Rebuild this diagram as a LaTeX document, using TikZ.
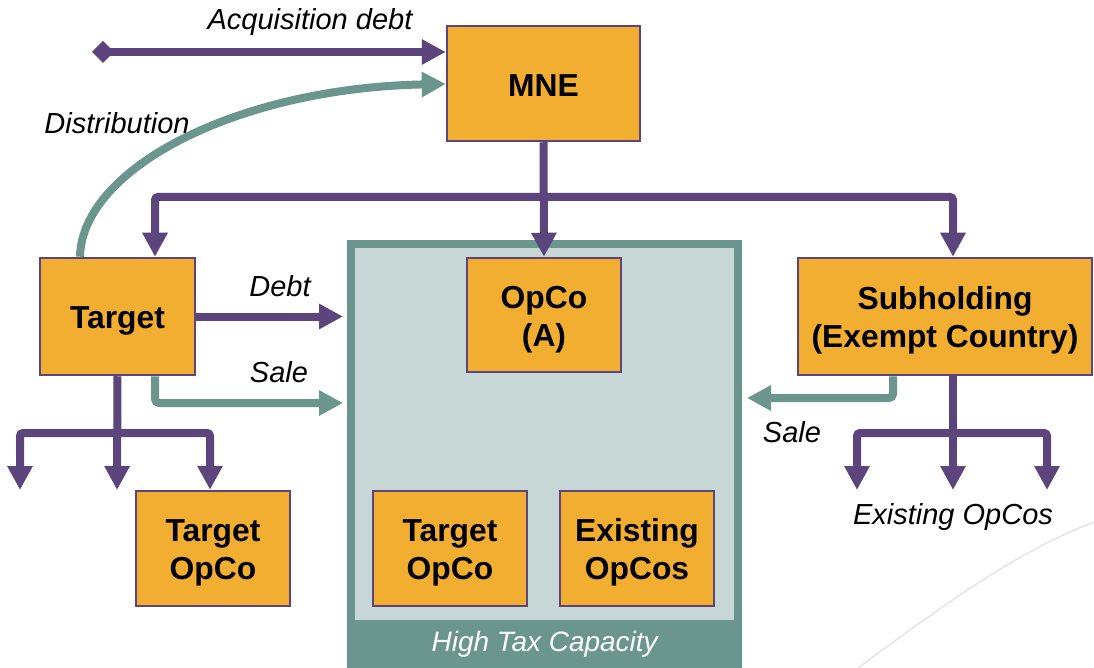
\documentclass[tikz,border=0pt]{standalone}
\usepackage{fontspec}
\setmainfont{Liberation Sans}
\usetikzlibrary{arrows.meta,calc}
\definecolor{boxor}{HTML}{F2AE30}
\definecolor{purp}{HTML}{5C457D}
\definecolor{tealc}{HTML}{6B968E}
\definecolor{lightf}{HTML}{C6D7D5}
\newcommand\bxs[1]{\rule{0pt}{#1}}
\begin{document}
\begin{tikzpicture}[x=1pt,y=-1pt,
  box/.style={draw=purp, line width=2.5pt, fill=boxor, font=\bfseries\fontsize{31.8}{38}\selectfont, align=center, inner sep=0pt},
  pl/.style={draw=purp, line width=8pt},
  tl/.style={draw=tealc, line width=8pt},
  tip/.style={-{Triangle[length=24pt,width=24pt]}},
  dtip/.style={{Triangle[length=24pt,width=24pt]}-{Triangle[length=24pt,width=24pt]}},
  lbl/.style={font=\itshape\fontsize{29}{34}\selectfont, inner sep=0pt}
]
\useasboundingbox (0,0) rectangle (1094,668);
\fill[white] (0,0) rectangle (1094,668);
% faint background curve
\draw[black!10, line width=1.5pt] (858,668) .. controls (950,600) and (1020,550) .. (1094,522);

% high tax capacity region
\node[draw=tealc, line width=8pt, fill=lightf, minimum width=387pt, minimum height=424pt, anchor=north west, inner sep=0pt] (htc) at (347,240) {};
\node[fill=tealc, minimum width=395pt, minimum height=48pt, anchor=south west, inner sep=0pt, text=white, font=\itshape\fontsize{28}{34}\selectfont] (band) at (347,668) {High Tax Capacity};

% boxes
\node[box, minimum width=193pt, minimum height=115pt] (MNE) at (543.5,83.5) {\bxs{26pt}MNE};
\node[box, minimum width=155pt, minimum height=117pt] (Target) at (117.5,316.5) {\bxs{30pt}Target};
\node[box, minimum width=154pt, minimum height=114pt] (OpCoA) at (544,315) {\bxs{31pt}OpCo\\(A)};
\node[box, minimum width=294pt, minimum height=117pt] (Sub) at (945,316.5) {\bxs{31pt}Subholding\\(Exempt Country)};
\node[box, minimum width=154pt, minimum height=115pt] (TO1) at (213,548.5) {\bxs{31pt}Target\\OpCo};
\node[box, minimum width=154pt, minimum height=115pt] (TO2) at (450,548.5) {\bxs{31pt}Target\\OpCo};
\node[box, minimum width=154pt, minimum height=115pt] (EO) at (637,548.5) {\bxs{31pt}Existing\\OpCos};

% labels
\node[lbl] (lAcq) at (310,22) {Acquisition debt};
\node[lbl] (lDist) at (117,123) {Distribution};
\node[lbl] (lDebt) at (280,286) {Debt};
\node[lbl] (lSaleL) at (279,372) {Sale};
\node[lbl] (lSaleR) at (792,432) {Sale};
\node[lbl] (lEx) at (953,517) {Existing OpCos};

% free-end coordinates
\coordinate (acq) at (92,52);
\coordinate (bus) at (543,197);
\coordinate (tbus) at (117,433);
\coordinate (tL) at (20,490);
\coordinate (tM) at (117,490);
\coordinate (saleL) at (343,403);
\coordinate (saleR) at (747,398);
\coordinate (sbus) at (953,433);
\coordinate (sL) at (857,490);
\coordinate (sM) at (953,490);
\coordinate (sR) at (1047,490);

% acquisition debt
\draw[pl, {Diamond[length=22pt,width=22pt]}-{Triangle[length=24pt,width=24pt]}] (acq) -- (MNE.west |- acq);
% distribution
\draw[tl, tip] ([xshift=-37.5pt]Target.north) .. controls (82,168) and (238,88) .. ([yshift=-0.5pt]MNE.west);
% MNE ownership
\draw[pl, tip] (MNE.south) -- (OpCoA.north);
\draw[pl, dtip, rounded corners=3pt] ([xshift=37.5pt]Target.north) -- ([xshift=37.5pt]Target.north |- bus) -- ([xshift=8pt]Sub.north |- bus) -- ([xshift=8pt]Sub.north);
% debt and sale
\draw[pl, tip, shorten >=4pt] (Target.east) -- (Target.east -| htc.west);
\draw[tl, tip, rounded corners=4pt] ([xshift=37.5pt]Target.south) |- (saleL);
\draw[tl, tip, rounded corners=4pt] ([xshift=-52pt]Sub.south) |- (saleR);
% target subsidiaries
\draw[pl, tip] (Target.south) -- (tM);
\draw[pl, dtip, rounded corners=3pt] (tL) -- (tL |- tbus) -- ([xshift=-3pt]TO1.north |- tbus) -- ([xshift=-3pt]TO1.north);
% subholding subsidiaries
\draw[pl, tip] ([xshift=8pt]Sub.south) -- (sM);
\draw[pl, dtip, rounded corners=3pt] (sL) -- (sL |- sbus) -- (sR |- sbus) -- (sR);
\end{tikzpicture}
\end{document}
